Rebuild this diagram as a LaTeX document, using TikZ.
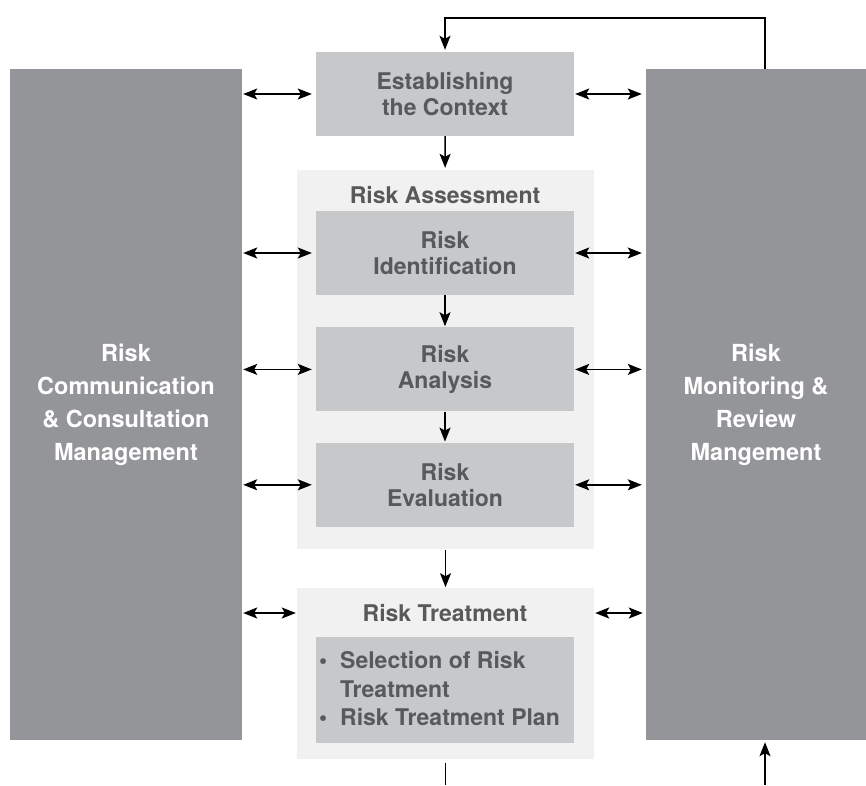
\documentclass[tikz,border=0pt]{standalone}
\usepackage{fontspec}
\setmainfont{TeX Gyre Heros}
\usetikzlibrary{shapes,arrows.meta,positioning}
\definecolor{bargray}{HTML}{939598}
\definecolor{boxgray}{HTML}{C7C8CA}
\definecolor{bggray}{HTML}{F1F1F1}
\definecolor{txtgray}{HTML}{58595B}

\begin{document}
\begin{tikzpicture}[x=1pt,y=-1pt,
  bar/.style={draw=none,fill=bargray,text=white,align=center,minimum height=671pt,font=\bfseries\fontsize{23.5}{33}\selectfont},
  stage/.style={draw=none,fill=boxgray,text=txtgray,align=center,minimum width=258pt,minimum height=84pt,inner sep=0pt,font=\bfseries\fontsize{23}{25.6}\selectfont},
  group/.style={draw=none,fill=bggray,minimum width=297pt,inner sep=0pt},
  title/.style={text=txtgray,inner sep=0pt,font=\bfseries\fontsize{23}{25.6}\selectfont},
  arr/.style={-{Stealth[length=14pt,width=11pt,inset=3pt]},line width=1.4pt},
  biarr/.style={{Stealth[length=14pt,width=11pt,inset=3pt]}-{Stealth[length=14pt,width=11pt,inset=3pt]},line width=1.4pt}]
\useasboundingbox (0,0) rectangle (866,785);
% Side bars
\node[bar,minimum width=232pt](comm) at (126,404.5){Risk\\Communication\\\& Consultation\\Management};
\node[bar,minimum width=220pt](monit) at (756,404.5){Risk\\Monitoring \&\\Review\\Mangement};
% Context
\node[stage](ctx) at (445,94){Establishing\\the Context};
% Risk assessment
\node[group,minimum height=379pt](asmt) at (445.5,359.5){};
\node[title](astitle) at (445,195){Risk Assessment};
\node[stage](ident) at (445,253){Risk\\Identification};
\node[stage,below=32pt of ident](anal){Risk\\Analysis};
\node[stage,below=31pt of anal](eval){Risk\\Evaluation};
% Risk treatment
\node[group,minimum height=171pt,below=39pt of asmt](trt){};
\node[title](trtitle) at (445,613){Risk Treatment};
\node[stage,minimum height=106pt](plan) at (445,690){};
\node[title,align=left,anchor=west,font=\bfseries\fontsize{23}{28.5}\selectfont](list) at (319,689){\makebox[21pt][l]{\textbullet}Selection of Risk\\\hspace*{21pt}Treatment\\\makebox[21pt][l]{\textbullet}Risk Treatment Plan};
% Arrows down
\draw[arr,shorten >=2pt] (ctx) -- (asmt);
\draw[arr,shorten >=1pt] (ident) -- (anal);
\draw[arr,shorten >=1pt] (anal) -- (eval);
\draw[arr,shorten <=1pt,shorten >=1pt] (asmt) -- (trt);
% Feedback loop
\coordinate (fb) at (765,18);
\coordinate (bottom) at (445,785);
\coordinate (upin) at (765,785);
\draw[arr,shorten >=2pt] (monit.north -| fb) -- (fb) -| (ctx.north);
\draw[line width=1.4pt] ([yshift=-3pt]trt.south) -- (trt.south |- bottom);
\draw[arr,shorten >=2pt] (upin) -- (monit.south -| upin);
% Two-way arrows
\foreach \n in {ctx,ident,anal,eval}{
  \draw[biarr,shorten <=1pt,shorten >=4pt] (comm.east |- \n.west) -- (\n.west);
  \draw[biarr,shorten <=1pt,shorten >=4pt] (\n.east) -- (monit.west |- \n.east);
}
\draw[biarr,shorten <=1pt,shorten >=1pt] (comm.east |- trtitle) -- (trt.west |- trtitle);
\draw[biarr,shorten <=1pt,shorten >=3pt] (trt.east |- trtitle) -- (monit.west |- trtitle);
\end{tikzpicture}
\end{document}
